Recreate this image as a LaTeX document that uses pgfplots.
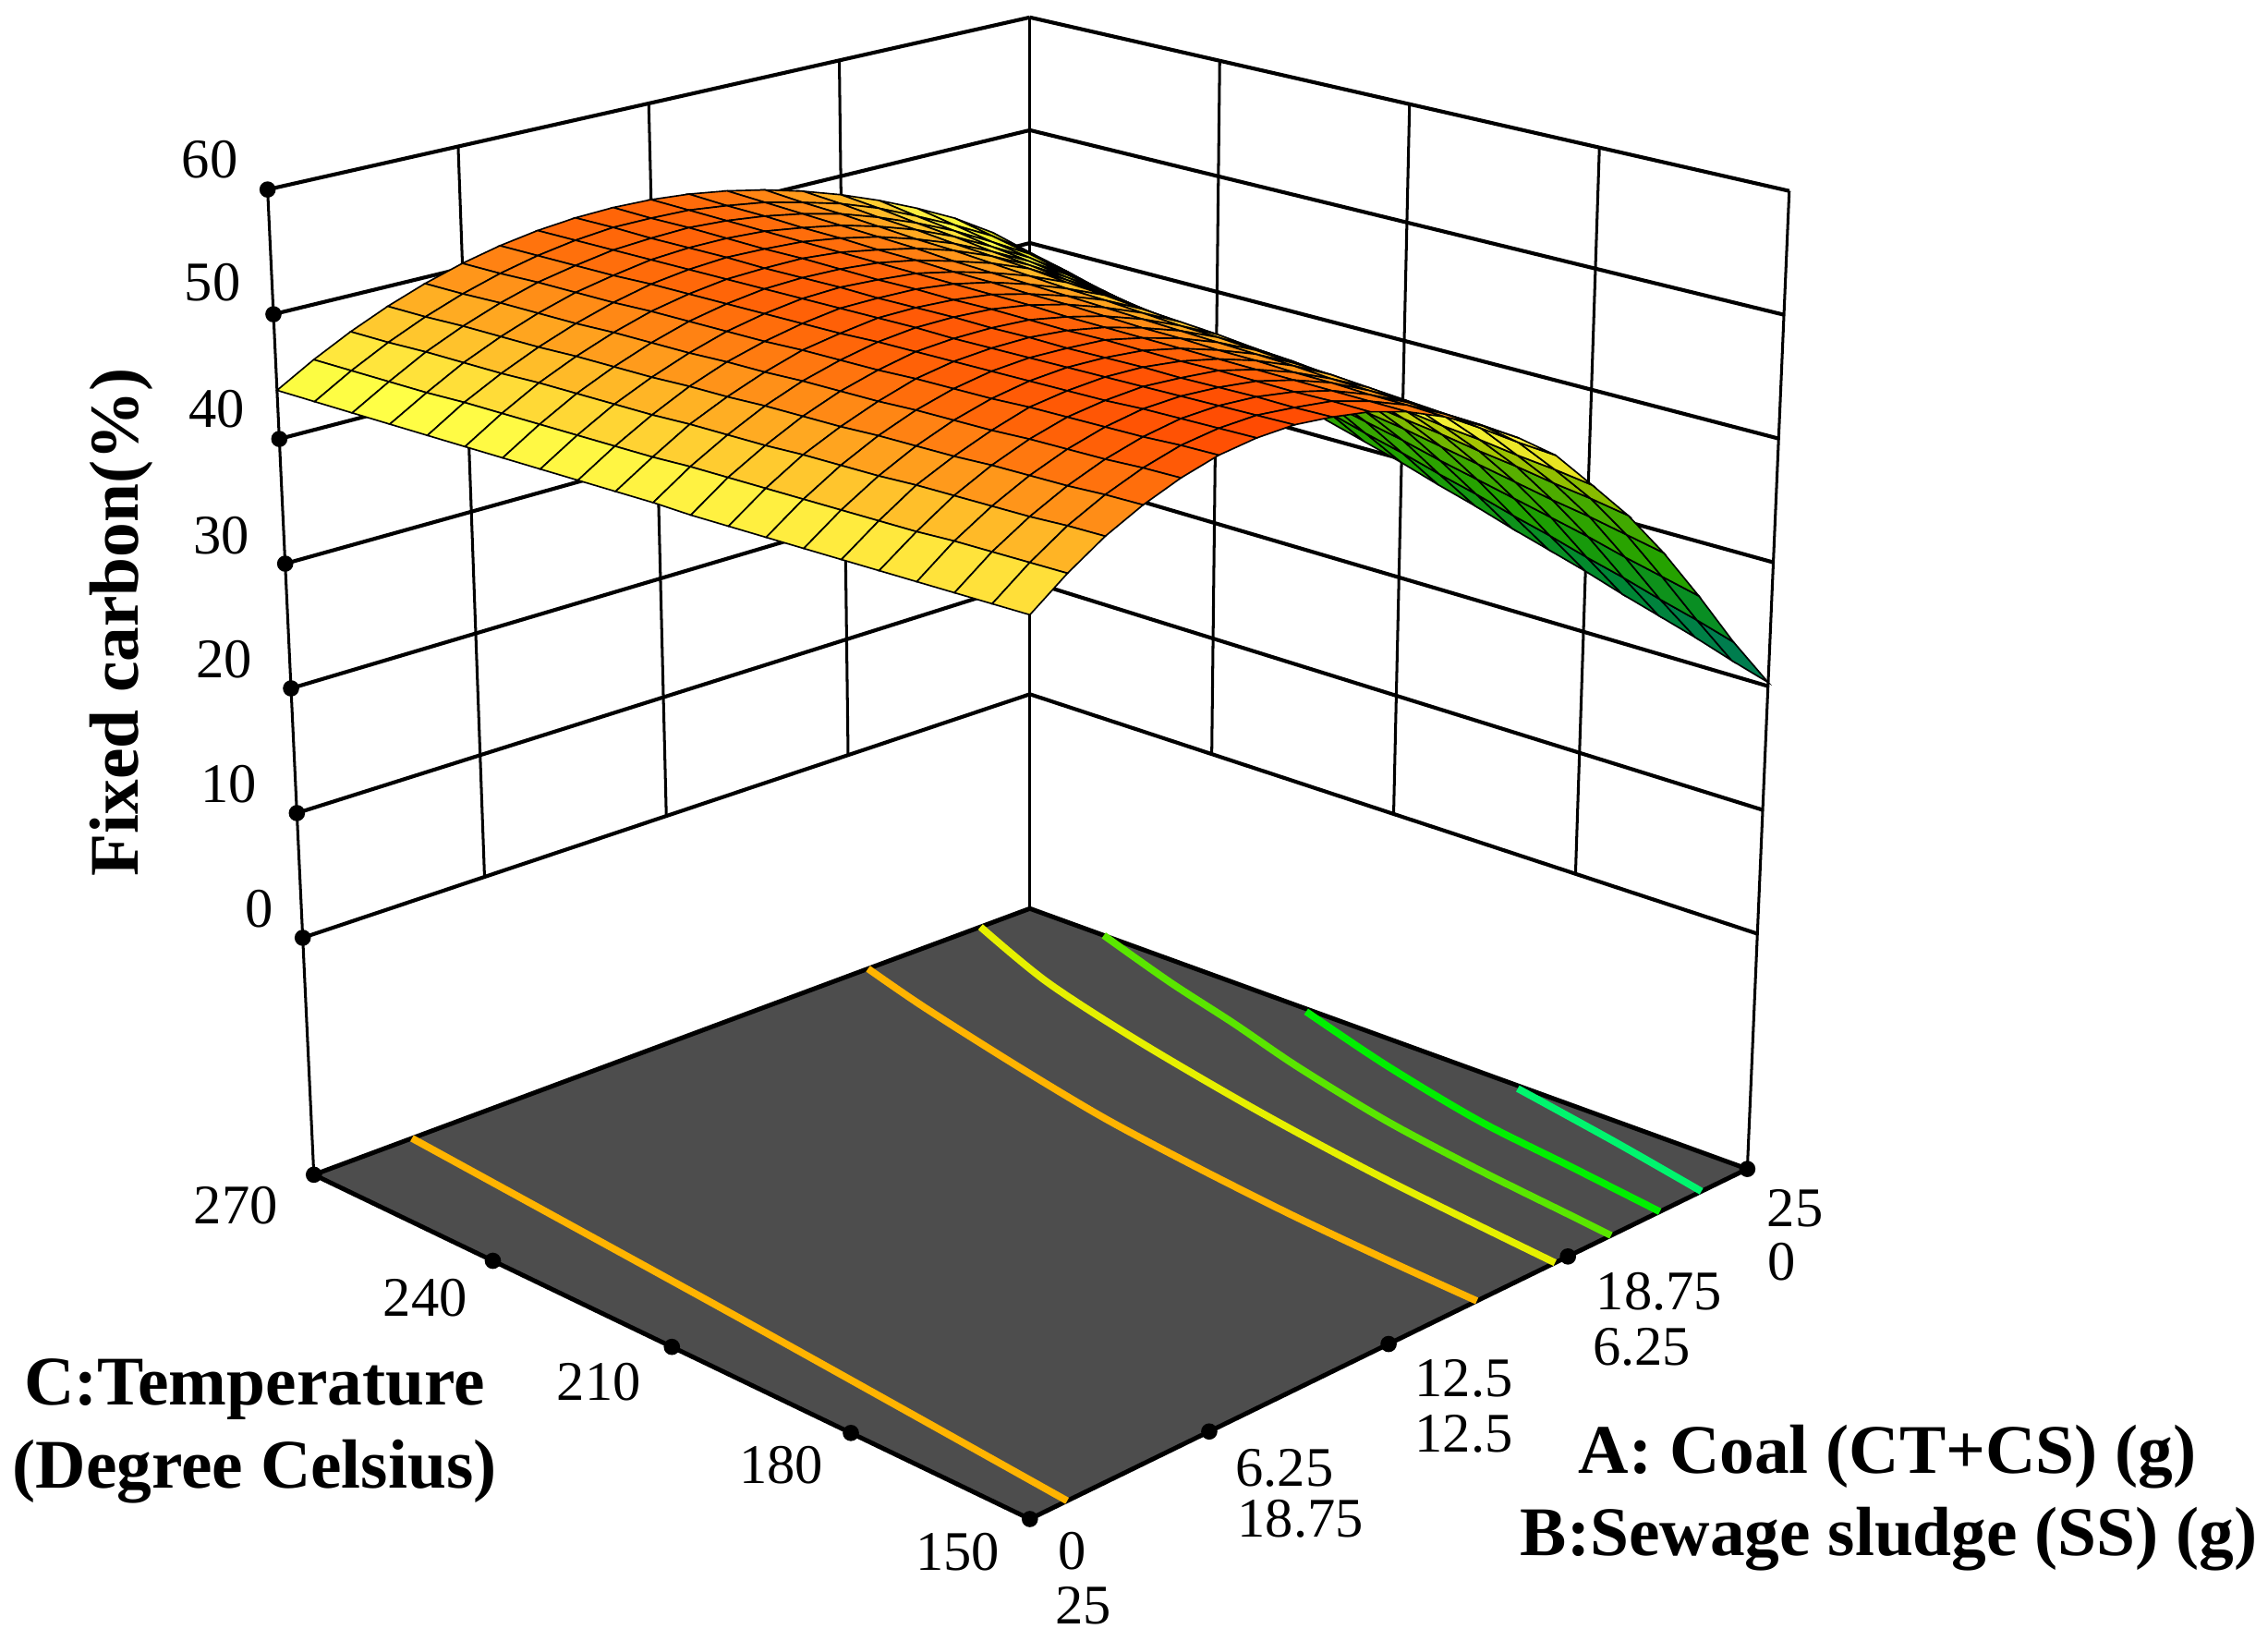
\documentclass[border=0pt]{standalone}
\usepackage{fontspec}
\setmainfont{Liberation Serif}
\usepackage{pgfplots}
\pgfplotsset{compat=1.18}
% picture is laid out in the reference's own pixels (1568 x 1134 view)
% s = A/25, t = (270-T)/120, z = fixed carbon; corners of the drawn box below
\pgfplotsset{
  table/proj/.style={row sep=\\,
    x expr={px(\thisrow{s},\thisrow{t},\thisrow{z})},
    y expr={py(\thisrow{s},\thisrow{t},\thisrow{z})}},
  wall/.style={black,line width=0.55pt,no marks},
  wallh/.style={black,line width=0.75pt,no marks},
  cont/.style={smooth,line width=1.4pt,no marks}
}
\newcommand\seg[2]{\addplot[wall] table[proj]{s t z\\#1\\#2\\};}
\newcommand\segh[2]{\addplot[wallh] table[proj]{s t z\\#1\\#2\\};}
\newcommand\lab[3]{\node[font=\fontsize{11}{13}\selectfont] at (axis cs:#1,#2) {#3};}
\newcommand\blab[4][0]{\node[font=\fontsize{13.7}{16}\selectfont\bfseries,rotate=#1] at (axis cs:#2,#3) {#4};}
\definecolor{floorc}{RGB}{77,77,77}
\begin{document}
\begin{tikzpicture}[declare function={
    wt(\z)=(\z+19)/79;
    px(\p,\q,\z)=(1-\p)*(1-\q)*(217-32*wt(\z))+\p*(1-\q)*712+(1-\p)*\q*712+\p*\q*(1208+29*wt(\z));
    py(\p,\q,\z)=(1-\p)*(1-\q)*(812-681*wt(\z))+\p*(1-\q)*(628-616*wt(\z))+(1-\p)*\q*(1050-762*wt(\z))+\p*\q*(808-676*wt(\z));
    tv(\i)=floor((\i+0.5)/21)/20;
    sv(\i)=1-(\i-21*floor((\i+0.5)/21))/20;
  }]
\useasboundingbox (0,0) rectangle (15.68cm,11.34cm);
\begin{axis}[at={(0,0)},anchor=south west,scale only axis,width=15.68cm,height=11.34cm,
  xmin=0,xmax=1568,ymin=0,ymax=1134,y dir=reverse,hide axis,clip=false,
  colormap={fx}{rgb255(20)=(0,115,105);rgb255(26)=(0,135,50);rgb255(31)=(30,160,0);
    rgb255(37)=(70,170,0);rgb255(41)=(160,195,0);rgb255(43)=(230,225,30);rgb255(45)=(255,255,70);
    rgb255(46)=(255,240,65);rgb255(49)=(255,175,35);rgb255(52)=(255,100,8);rgb255(54)=(255,65,0)},
  point meta min=20,point meta max=54]

% back walls
\segh{0 0 60}{1 0 60}\segh{0 0 50}{1 0 50}\segh{0 0 40}{1 0 40}\segh{0 0 30}{1 0 30}
\segh{0 0 20}{1 0 20}\segh{0 0 10}{1 0 10}\segh{0 0 0}{1 0 0}
\segh{1 0 60}{1 1 60}\segh{1 0 50}{1 1 50}\segh{1 0 40}{1 1 40}\segh{1 0 30}{1 1 30}
\segh{1 0 20}{1 1 20}\segh{1 0 10}{1 1 10}\segh{1 0 0}{1 1 0}
\seg{0.25 0 0}{0.25 0 60}\seg{0.5 0 0}{0.5 0 60}\seg{0.75 0 0}{0.75 0 60}
\seg{1 0.25 0}{1 0.25 60}\seg{1 0.5 0}{1 0.5 60}\seg{1 0.75 0}{1 0.75 60}
\seg{0 0 -19}{0 0 60}\seg{1 0 -19}{1 0 60}\seg{1 1 -19}{1 1 60}

% floor with contours
\addplot[fill=floorc,draw=black,line width=0.9pt,no marks] table[proj]
  {s t z\\0 0 -19\\1 0 -19\\1 1 -19\\0 1 -19\\} --cycle;
\addplot[cont,color={rgb,255:red,255;green,180;blue,0}] table[proj]
  {s t z\\0.137 0 -19\\0.094 0.5 -19\\0.052 1 -19\\};
\addplot[cont,color={rgb,255:red,255;green,180;blue,0}] table[proj]
  {s t z\\0.774 0 -19\\0.744 0.108 -19\\0.705 0.277 -19\\0.675 0.43 -19\\0.655 0.58 -19\\0.64 0.725 -19\\0.63 0.866 -19\\0.623 1 -19\\};
\addplot[cont,color={rgb,255:red,230;green,240;blue,0}] table[proj]
  {s t z\\0.931 0 -19\\0.875 0.149 -19\\0.831 0.322 -19\\0.79 0.53 -19\\0.759 0.738 -19\\0.732 1 -19\\};
\addplot[cont,color={rgb,255:red,90;green,230;blue,0}] table[proj]
  {s t z\\1 0.103 -19\\0.958 0.238 -19\\0.927 0.356 -19\\0.892 0.482 -19\\0.857 0.64 -19\\0.834 0.792 -19\\0.817 0.939 -19\\0.81 1 -19\\};
\addplot[cont,color={rgb,255:red,0;green,240;blue,0}] table[proj]
  {s t z\\0.995 0.39 -19\\0.952 0.545 -19\\0.916 0.71 -19\\0.897 0.855 -19\\0.878 1 -19\\};
\addplot[cont,color={rgb,255:red,0;green,245;blue,110}] table[proj]
  {s t z\\0.995 0.685 -19\\0.965 0.85 -19\\0.936 1 -19\\};

% response surface: rows run t=0..1, s=1..0 in each row, so far cells are painted first
\addplot[surf,shader=faceted,faceted color=black,line width=0.3pt,mesh/rows=21,mesh/cols=21,
  point meta=\thisrow{z}] table[row sep=\\,
    x expr={px(sv(\coordindex),tv(\coordindex),\thisrow{z})},
    y expr={py(sv(\coordindex),tv(\coordindex),\thisrow{z})}] {z\\
39.0\\41.8\\43.9\\45.6\\47.1\\48.4\\49.5\\50.4\\51.1\\51.6\\51.9\\52.0\\51.9\\51.6\\51.1\\50.4\\49.5\\48.4\\47.1\\45.6\\43.9\\
38.1\\40.9\\43.2\\45.0\\46.6\\48.1\\49.3\\50.2\\51.0\\51.5\\51.9\\52.0\\52.0\\51.7\\51.2\\50.5\\49.6\\48.5\\47.2\\45.7\\44.0\\
37.1\\40.1\\42.5\\44.4\\46.2\\47.7\\49.0\\50.1\\50.9\\51.5\\51.9\\52.1\\52.0\\51.8\\51.3\\50.7\\49.8\\48.7\\47.4\\45.8\\44.1\\
36.2\\39.2\\41.7\\43.9\\45.7\\47.4\\48.8\\49.9\\50.8\\51.4\\51.9\\52.1\\52.1\\51.9\\51.4\\50.8\\49.9\\48.8\\47.5\\45.9\\44.2\\
35.3\\38.4\\41.0\\43.3\\45.3\\47.0\\48.5\\49.7\\50.7\\51.4\\51.9\\52.1\\52.2\\52.0\\51.6\\50.9\\50.0\\48.9\\47.6\\46.1\\44.3\\
34.3\\37.5\\40.3\\42.7\\44.8\\46.7\\48.3\\49.6\\50.6\\51.3\\51.9\\52.2\\52.2\\52.1\\51.7\\51.1\\50.2\\49.1\\47.8\\46.2\\44.4\\
33.4\\36.7\\39.6\\42.1\\44.4\\46.3\\48.1\\49.4\\50.4\\51.3\\51.9\\52.2\\52.3\\52.2\\51.8\\51.2\\50.3\\49.2\\47.9\\46.3\\44.5\\
32.5\\35.8\\38.9\\41.5\\43.9\\46.0\\47.8\\49.2\\50.3\\51.2\\51.9\\52.2\\52.4\\52.3\\51.9\\51.3\\50.4\\49.3\\48.0\\46.4\\44.6\\
31.5\\35.0\\38.1\\41.0\\43.5\\45.6\\47.6\\49.0\\50.2\\51.2\\51.9\\52.3\\52.4\\52.4\\52.0\\51.4\\50.6\\49.5\\48.1\\46.5\\44.7\\
30.6\\34.1\\37.4\\40.4\\43.0\\45.3\\47.3\\48.9\\50.1\\51.1\\51.9\\52.3\\52.5\\52.5\\52.1\\51.6\\50.7\\49.6\\48.3\\46.6\\44.8\\
29.7\\33.2\\36.7\\39.8\\42.6\\44.9\\47.1\\48.7\\50.0\\51.1\\51.9\\52.4\\52.6\\52.6\\52.3\\51.7\\50.9\\49.8\\48.4\\46.8\\44.9\\
28.7\\32.4\\36.0\\39.2\\42.1\\44.6\\46.9\\48.5\\49.9\\51.0\\51.8\\52.4\\52.6\\52.6\\52.4\\51.8\\51.0\\49.9\\48.5\\46.9\\44.9\\
27.8\\31.5\\35.3\\38.6\\41.6\\44.2\\46.6\\48.4\\49.8\\50.9\\51.8\\52.4\\52.7\\52.7\\52.5\\52.0\\51.1\\50.0\\48.7\\47.0\\45.0\\
26.8\\30.7\\34.5\\38.1\\41.2\\43.9\\46.4\\48.2\\49.7\\50.9\\51.8\\52.5\\52.7\\52.8\\52.6\\52.1\\51.3\\50.2\\48.8\\47.1\\45.1\\
25.9\\29.8\\33.8\\37.5\\40.7\\43.5\\46.1\\48.0\\49.6\\50.8\\51.8\\52.5\\52.8\\52.9\\52.7\\52.2\\51.4\\50.3\\48.9\\47.2\\45.2\\
25.0\\29.0\\33.1\\36.9\\40.3\\43.2\\45.9\\47.9\\49.5\\50.8\\51.8\\52.5\\52.9\\53.0\\52.8\\52.4\\51.5\\50.4\\49.1\\47.3\\45.3\\
24.0\\28.1\\32.4\\36.3\\39.8\\42.8\\45.7\\47.7\\49.3\\50.7\\51.8\\52.6\\52.9\\53.1\\52.9\\52.5\\51.7\\50.6\\49.2\\47.4\\45.4\\
23.1\\27.3\\31.7\\35.7\\39.4\\42.5\\45.4\\47.5\\49.2\\50.7\\51.8\\52.6\\53.0\\53.2\\53.1\\52.6\\51.8\\50.7\\49.3\\47.6\\45.5\\
22.2\\26.4\\30.9\\35.2\\38.9\\42.1\\45.2\\47.3\\49.1\\50.6\\51.8\\52.6\\53.1\\53.3\\53.2\\52.7\\51.9\\50.8\\49.4\\47.7\\45.6\\
21.2\\25.6\\30.2\\34.6\\38.5\\41.8\\44.9\\47.2\\49.0\\50.6\\51.8\\52.7\\53.1\\53.4\\53.3\\52.9\\52.1\\51.0\\49.6\\47.8\\45.7\\
20.3\\24.7\\29.5\\34.0\\38.0\\41.4\\44.7\\47.0\\48.9\\50.5\\51.8\\52.7\\53.2\\53.5\\53.4\\53.0\\52.2\\51.1\\49.7\\47.9\\45.8\\
};

% tick dots
\addplot[only marks,mark=*,mark size=1.4pt,black] table[proj]
  {s t z\\0 0 60\\0 0 50\\0 0 40\\0 0 30\\0 0 20\\0 0 10\\0 0 0\\0 0 -19\\
   0 0.25 -19\\0 0.5 -19\\0 0.75 -19\\0 1 -19\\
   0.25 1 -19\\0.5 1 -19\\0.75 1 -19\\1 1 -19\\};

\lab{145}{110}{60}\lab{147}{195}{50}\lab{150}{283}{40}\lab{153}{370}{30}
\lab{155}{456}{20}\lab{158}{542}{10}\lab{179}{628}{0}
\lab{163}{833}{270}\lab{294}{897}{240}\lab{414}{955}{210}\lab{540}{1013}{180}\lab{662}{1073}{150}
\lab{1241}{835}{25}\lab{1232}{872}{0}\lab{1147}{893}{18.75}\lab{1135}{931}{6.25}
\lab{1012}{953}{12.5}\lab{1012}{991}{12.5}\lab{888}{1015}{6.25}\lab{899}{1050}{18.75}
\lab{741}{1072}{0}\lab{749}{1110}{25}
\blab[90]{84}{430}{Fixed carbon(\%)}
\blab{176}{960}{C:Temperature}
\blab{176}{1017}{(Degree Celsius)}
\blab{1305}{1007}{A: Coal (CT+CS) (g)}
\blab{1306}{1064}{B:Sewage sludge (SS) (g)}
\end{axis}
\end{tikzpicture}
\end{document}
